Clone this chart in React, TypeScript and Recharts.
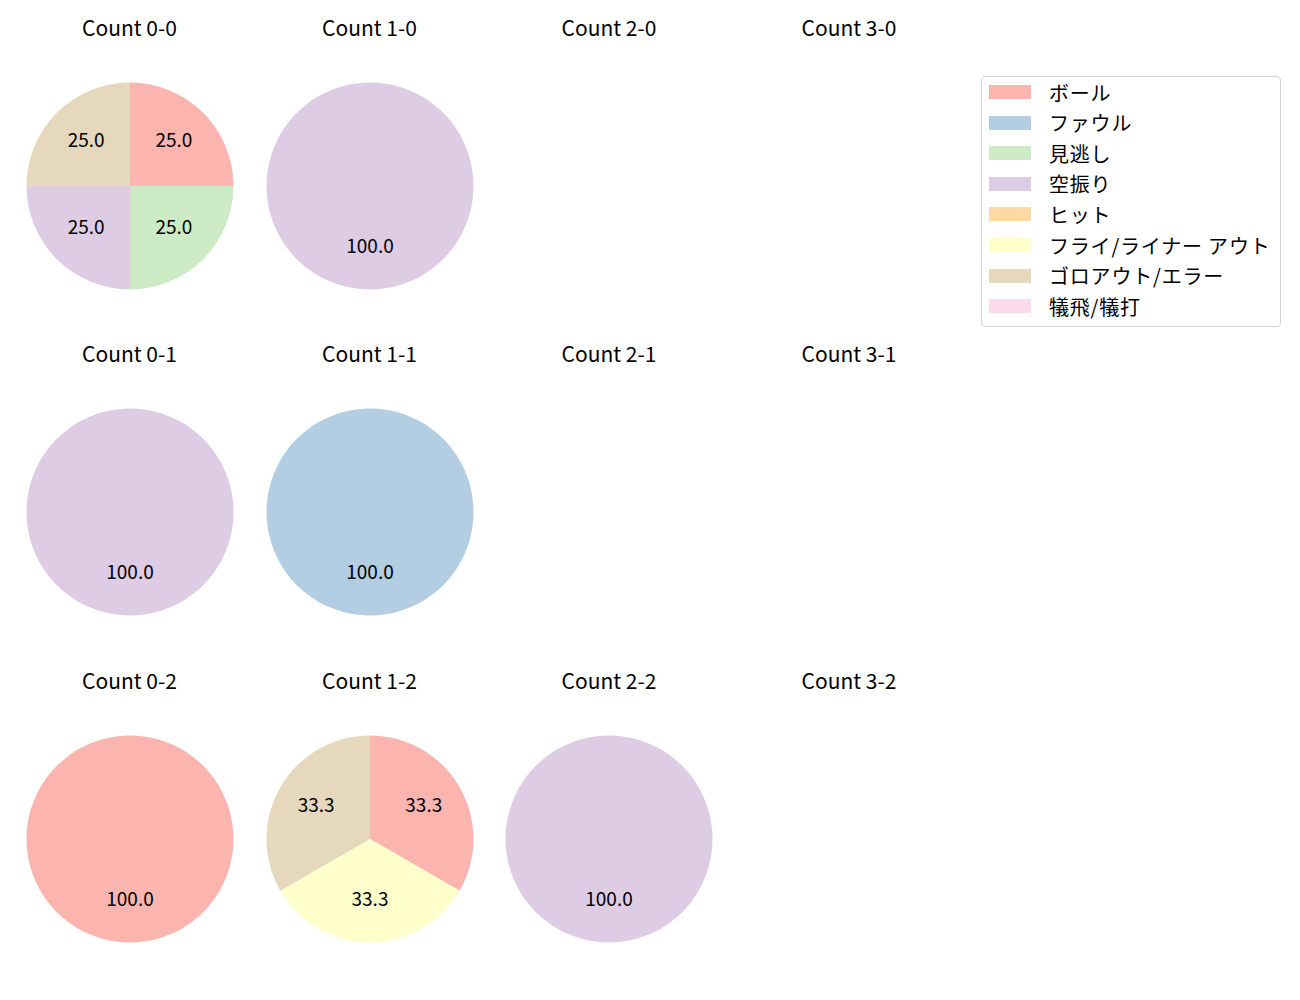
import { PieChart, Pie, Cell } from 'recharts';

const categories = ['ボール', 'ファウル', '見逃し', '空振り', 'ヒット', 'フライ/ライナー アウト', 'ゴロアウト/エラー', '犠飛/犠打'];
const colors = ['#fbb4ae', '#b3cde3', '#ccebc5', '#decbe4', '#fed9a6', '#ffffcc', '#e5d8bd', '#fddaec'];

// pitch counts per category, one list per ball-strike count (null = no pie)
const balls = [0, 1, 2, 3];
const strikes = [0, 1, 2];
const count00 = [1, 0, 1, 1, 0, 0, 1, 0];
const count10 = [0, 0, 0, 1, 0, 0, 0, 0];
const count01 = [0, 0, 0, 1, 0, 0, 0, 0];
const count11 = [0, 1, 0, 0, 0, 0, 0, 0];
const count02 = [1, 0, 0, 0, 0, 0, 0, 0];
const count12 = [1, 0, 0, 0, 0, 1, 1, 0];
const count22 = [0, 0, 0, 1, 0, 0, 0, 0];

const grid: Record<string, number[] | null> = {
  '0-0': count00, '1-0': count10, '2-0': null, '3-0': null,
  '0-1': count01, '1-1': count11, '2-1': null, '3-1': null,
  '0-2': count02, '1-2': count12, '2-2': count22, '3-2': null,
};

const FONT = '"Noto Sans CJK JP", "Noto Sans", sans-serif';
const colX = [129.5, 369.5, 609, 849];
const rowY = [185.5, 512, 839];
const titleY = [27, 353, 680];
const R = 103.5;
const BOX = 240;
const RAD = Math.PI / 180;

const renderLabel = (p: any) => {
  const r = p.outerRadius * 0.6;
  const x = p.cx + r * Math.cos(-p.midAngle * RAD);
  const y = p.cy + r * Math.sin(-p.midAngle * RAD) - 4;
  return (
    <text x={x} y={y} textAnchor="middle" dominantBaseline="central" fill="#000" fontSize={19} fontFamily={FONT}>
      {(p.percent * 100).toFixed(1)}
    </text>
  );
};

function Cellpie({ b, s }: { b: number; s: number }) {
  const key = `${b}-${s}`;
  const vals = grid[key];
  const data = vals
    ? categories.map((name, i) => ({ name, value: vals[i], color: colors[i] })).filter((d) => d.value > 0)
    : [];
  return (
    <>
      <div
        style={{
          position: 'absolute',
          left: colX[b] - 120,
          top: titleY[s] - 15,
          width: 240,
          height: 30,
          lineHeight: '30px',
          textAlign: 'center',
          fontSize: 21,
          fontFamily: FONT,
          color: '#000',
        }}
      >
        Count {key}
      </div>
      {vals && (
        <div style={{ position: 'absolute', left: colX[b] - BOX / 2, top: rowY[s] - BOX / 2 }}>
          <PieChart width={BOX} height={BOX} margin={{ top: 0, right: 0, bottom: 0, left: 0 }}>
            <Pie
              data={data}
              dataKey="value"
              cx={BOX / 2}
              cy={BOX / 2}
              outerRadius={R}
              startAngle={90}
              endAngle={-270}
              stroke="none"
              labelLine={false}
              label={renderLabel}
              isAnimationActive={false}
            >
              {data.map((d) => (
                <Cell key={d.name} fill={d.color} />
              ))}
            </Pie>
          </PieChart>
        </div>
      )}
    </>
  );
}

export default function App() {
  return (
    <div style={{ position: 'absolute', left: 0, top: 0, width: 1300, height: 1000, background: '#fff' }}>
      {strikes.map((s) => balls.map((b) => <Cellpie key={`${b}-${s}`} b={b} s={s} />))}
      <div
        style={{
          position: 'absolute',
          left: 981,
          top: 76,
          width: 298,
          height: 249,
          border: '1px solid #d5d5d5',
          borderRadius: 4,
          fontFamily: FONT,
          fontSize: 20,
          color: '#000',
        }}
      >
        {categories.map((c, i) => (
          <div key={c} style={{ position: 'absolute', left: 0, top: i * 30.6, height: 30, display: 'flex', alignItems: 'center' }}>
            <div style={{ marginLeft: 7, width: 42, height: 14, background: colors[i] }} />
            <div style={{ marginLeft: 18, whiteSpace: 'nowrap', letterSpacing: 0.8 }}>{c}</div>
          </div>
        ))}
      </div>
    </div>
  );
}
